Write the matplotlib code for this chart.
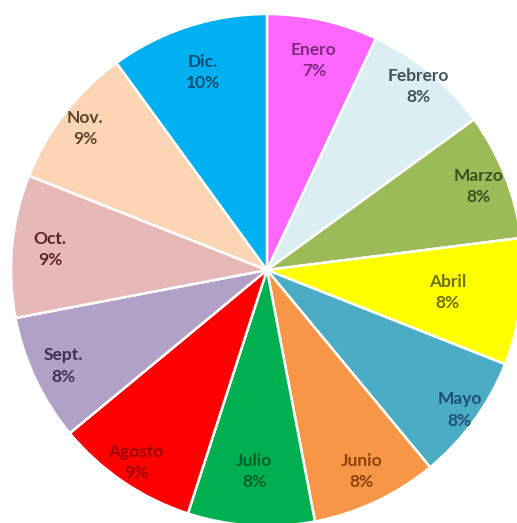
import numpy as np
import matplotlib.pyplot as plt

# Datos: porcentaje por mes
meses = ['Enero', 'Febrero', 'Marzo', 'Abril', 'Mayo', 'Junio',
         'Julio', 'Agosto', 'Sept.', 'Oct.', 'Nov.', 'Dic.']
porcentajes = [7, 8, 8, 8, 8, 8, 8, 9, 8, 9, 9, 10]

colores = ['#FF66FF', '#DAEEF3', '#9BBB59', '#FFFF00', '#4BACC6', '#F79646',
           '#00B050', '#FF0000', '#B2A1C7', '#E6B9B8', '#FCD5B5', '#00B0F0']
colores_texto = ['#7F2A7F', '#44535A', '#3F5020', '#6F6F00', '#1F4E79', '#8A4206',
                 '#00602B', '#A00000', '#403152', '#5A2523', '#5F4530', '#0F4E70']
# distancia de cada etiqueta al centro (fraccion del radio)
dist_etiquetas = [0.84, 0.93, 0.89, 0.71, 0.93, 0.87,
                  0.79, 0.91, 0.88, 0.85, 0.90, 0.81]

fig = plt.figure(figsize=(5.17, 5.23), dpi=100)
ax = fig.add_axes([0, 0, 1, 1])

wedges, _ = ax.pie(porcentajes, colors=colores, startangle=90, counterclock=False,
                   radius=1, wedgeprops={'edgecolor': 'white', 'linewidth': 1.8})

for w, mes, p, c, d in zip(wedges, meses, porcentajes, colores_texto, dist_etiquetas):
    ang = np.deg2rad((w.theta1 + w.theta2) / 2)
    ax.text(d * np.cos(ang), d * np.sin(ang), f'{mes}\n{p}%', ha='center', va='center',
            fontsize=12.5, fontweight='bold', family=['Lato', 'DejaVu Sans'],
            color=c, linespacing=1.4)

ax.set_xlim(-267 / 256, 250 / 256)
ax.set_ylim(-253 / 256, 270 / 256)
ax.set_aspect('equal')
ax.axis('off')

plt.savefig('out.png', dpi=100)
